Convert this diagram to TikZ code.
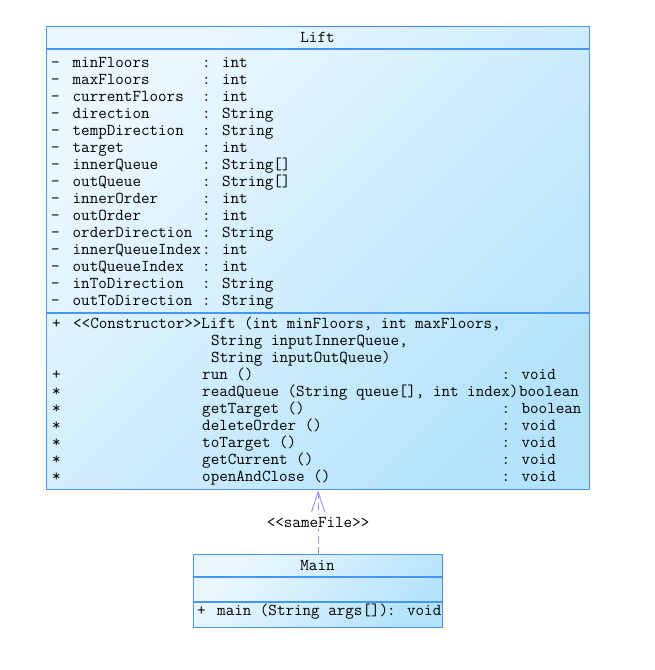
\documentclass[tikz,border=0pt]{standalone}
\usepackage{fontspec}
\usetikzlibrary{arrows.meta}

\definecolor{umlline}{RGB}{70,150,242}
\definecolor{umllight}{RGB}{236,248,255}
\definecolor{umldark}{RGB}{180,227,251}
\definecolor{deplink}{RGB}{145,145,245}

\begin{document}
\begin{tikzpicture}[x=1pt, y=-1pt, font=\ttfamily\fontsize{16.6}{17}\selectfont,
  classbox/.style={draw=umlline, line width=1.2pt, top color=umllight, bottom color=umldark,
    shading angle=45, inner sep=0pt, anchor=north west},
  divider/.style={draw=umlline, line width=1.2pt},
  txt/.style={anchor=base west, inner sep=0pt},
  dep/.style={draw=deplink, line width=0.9pt, dash pattern=on 7pt off 4pt,
    -{Straight Barb[length=20pt, width=13pt]}}]
  \useasboundingbox (0,0) rectangle (654,670);

  % class Lift
  \node[classbox, minimum width=543pt, minimum height=463pt] (lift) at (46,26) {};
  \draw[divider] (46,49) -- (589,49);
  \draw[divider] (46,313) -- (589,313);
  \node[anchor=base, inner sep=0pt] (liftname) at (317.5,42) {Lift};

  % attributes
  \foreach \n/\t [count=\k from 0] in {minFloors/int, maxFloors/int, currentFloors/int,
      direction/String, tempDirection/String, target/int, innerQueue/{String[]},
      outQueue/{String[]}, innerOrder/int, outOrder/int, orderDirection/String,
      innerQueueIndex/int, outQueueIndex/int, inToDirection/String, outToDirection/String}{
    \node[txt] (avis\k) at (51,67+17*\k) {-};
    \node[txt] (attr\k) at (72.5,67+17*\k) {\n};
    \node[txt] (atype\k) at (202,67+17*\k) {: \t};
  }

  % operations
  \node[txt] (cvis) at (52,328) {+};
  \node[txt] (ctor) at (73,328) {<<Constructor>>Lift (int minFloors, int maxFloors,};
  \node[txt] (ctor2) at (211,345) {String inputInnerQueue,};
  \node[txt] (ctor3) at (211,362) {String inputOutQueue)};
  \foreach \v/\n/\t [count=\k from 0] in {+/run ()/{: void},
      */{readQueue (String queue[], int index)}/{\hspace*{17.4pt}boolean},
      */getTarget ()/{: boolean}, */deleteOrder ()/{: void}, */toTarget ()/{: void},
      */getCurrent ()/{: void}, */openAndClose ()/{: void}}{
    \node[txt] (ovis\k) at (52,379+17*\k) {\v};
    \node[txt] (op\k) at (202,379+17*\k) {\n};
    \node[txt] (otype\k) at (501.5,379+17*\k) {\t};
  }

  % class Main
  \node[classbox, minimum width=249pt, minimum height=73pt] (main) at (193,554) {};
  \draw[divider] (193,577) -- (442,577);
  \draw[divider] (193,602) -- (442,602);
  \node[anchor=base, inner sep=0pt] (mainname) at (317.5,570) {Main};
  \node[txt] (mvis) at (197,615) {+};
  \node[txt] (mop) at (217,615) {main (String args[])};
  \node[txt] (mtype) at (387,615) {: void};

  % dependency
  \draw[dep] (main.north) -- (lift.south)
    node[pos=0.5, fill=white, inner sep=1.5pt] (samefile) {<<sameFile>>};
\end{tikzpicture}
\end{document}
